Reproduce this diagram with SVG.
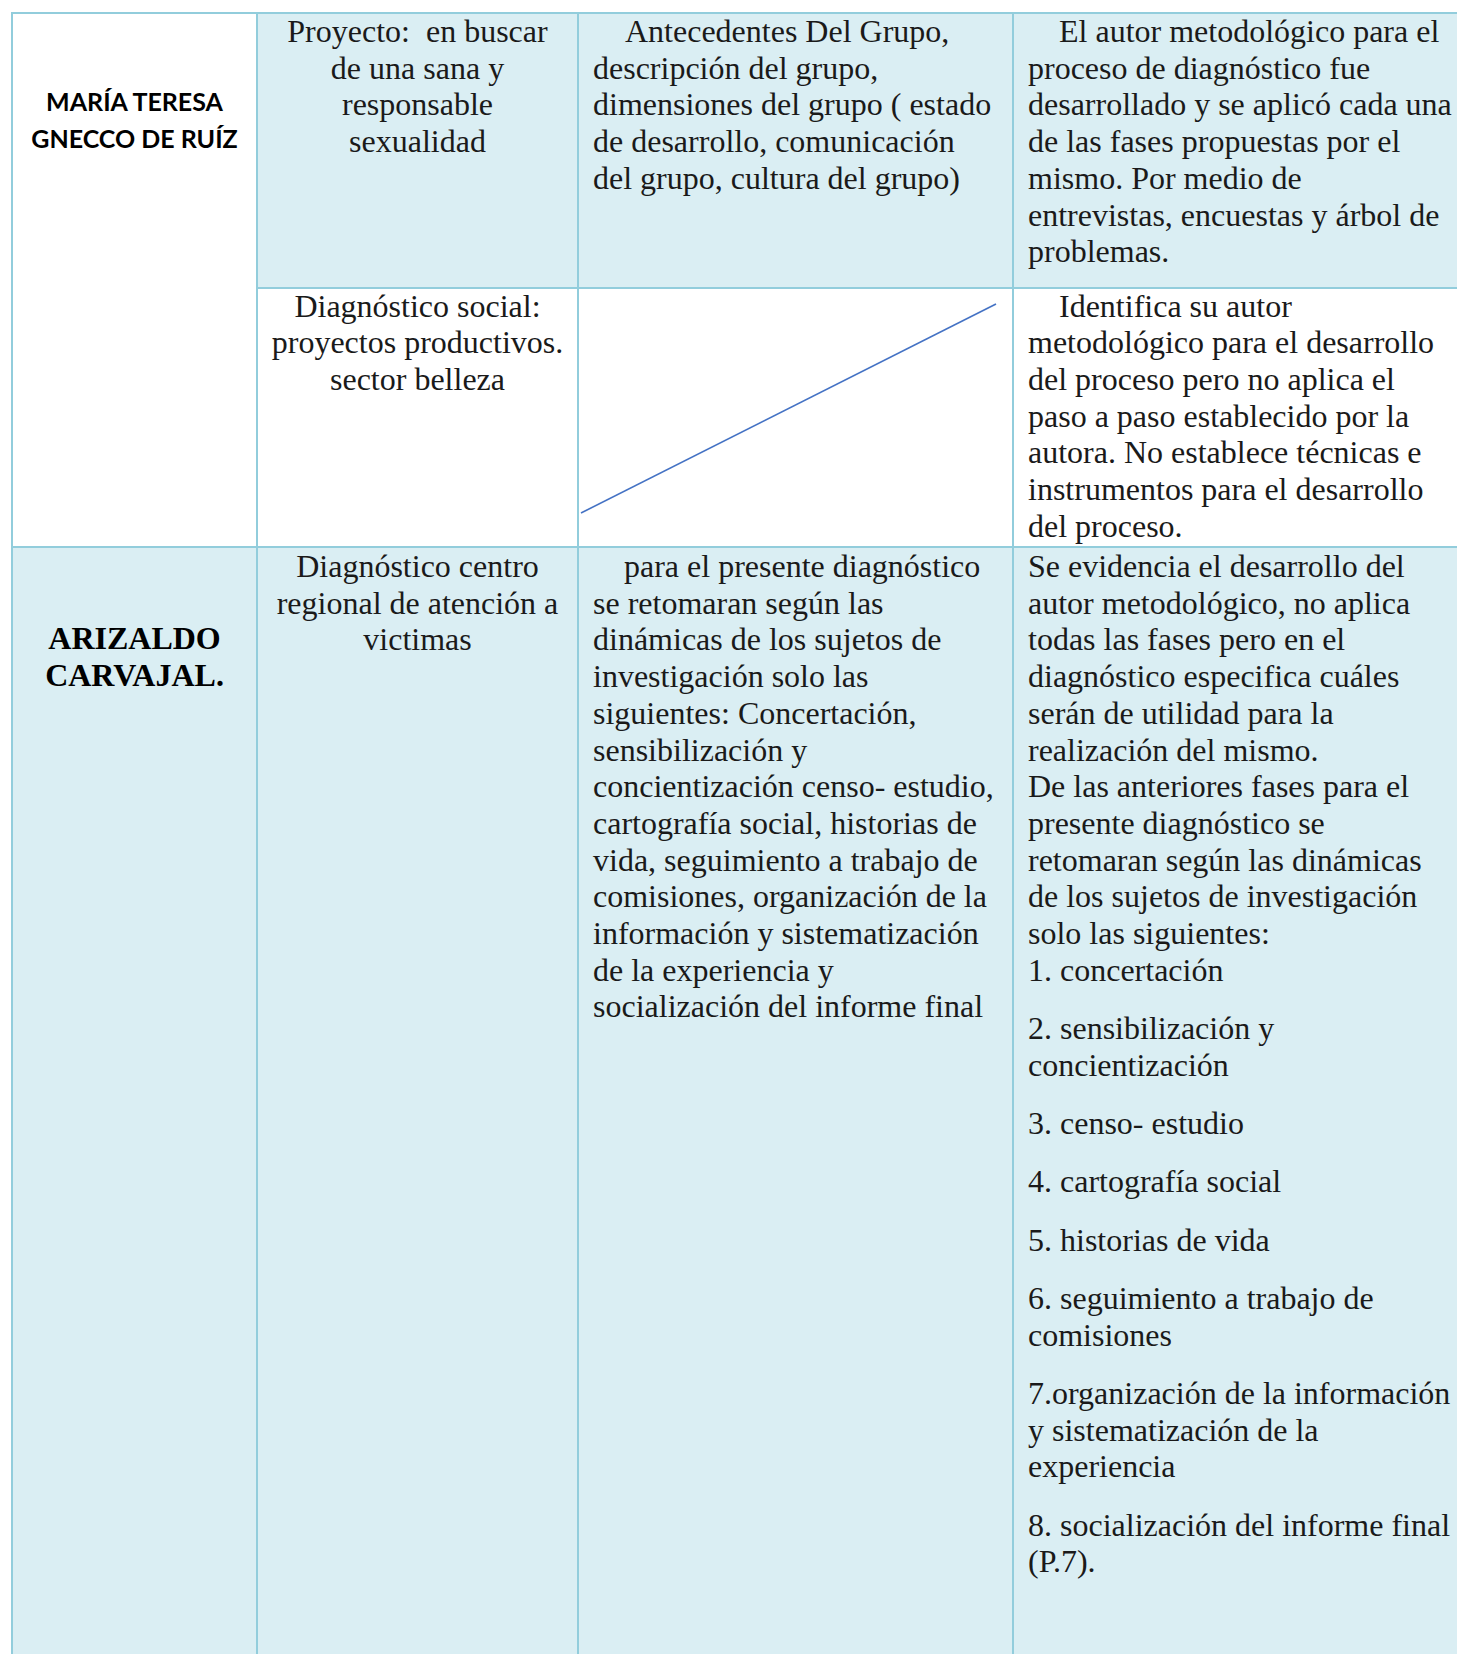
<svg xmlns="http://www.w3.org/2000/svg" width="1457" height="1654" viewBox="0 0 1457 1654">
<style>
.bg{fill:#ffffff}
.fill{fill:#DAEEF3}
.grid{stroke:#92CDDC;stroke-width:2;fill:none}
.t{font-family:"Liberation Serif","Times New Roman",serif;font-size:32px;fill:#1a1a1a}
.c{text-anchor:middle}
.nm{font-family:Lato,"Open Sans",sans-serif;font-weight:bold;font-size:25px;fill:#000;text-anchor:middle}
.nb{font-family:"Liberation Serif","Times New Roman",serif;font-weight:bold;font-size:32px;fill:#000;text-anchor:middle}
.diag{stroke:#4472C4;stroke-width:1.6}
</style>
<rect class="bg" x="0" y="0" width="1457" height="1654"/>
<g id="cells">
<rect class="fill" x="257" y="13" width="1200" height="275"/>
<rect class="fill" x="12" y="547" width="1445" height="1107"/>
</g>
<g id="grid">
<line class="grid" x1="12" y1="13" x2="1457" y2="13"/>
<line class="grid" x1="257" y1="288" x2="1457" y2="288"/>
<line class="grid" x1="12" y1="547" x2="1457" y2="547"/>
<line class="grid" x1="12" y1="12" x2="12" y2="1654"/>
<line class="grid" x1="257" y1="12" x2="257" y2="1654"/>
<line class="grid" x1="578" y1="12" x2="578" y2="1654"/>
<line class="grid" x1="1013" y1="12" x2="1013" y2="1654"/>
</g>
<g id="connectors">
<line class="diag" x1="581" y1="513" x2="996" y2="304"/>
</g>
<g id="name-maria">
<text class="nm" x="134.5" y="111">MARÍA TERESA</text>
<text class="nm" x="134.5" y="147.5">GNECCO DE RUÍZ</text>
</g>
<g id="r1c2">
<text class="t c" x="417.5" y="42">Proyecto:&#160; en buscar</text>
<text class="t c" x="417.5" y="78.7">de una sana y</text>
<text class="t c" x="417.5" y="115.4">responsable</text>
<text class="t c" x="417.5" y="152.1">sexualidad</text>
</g>
<g id="r1c3">
<text class="t" x="625" y="42">Antecedentes Del Grupo,</text>
<text class="t" x="593" y="78.7">descripción del grupo,</text>
<text class="t" x="593" y="115.4">dimensiones del grupo ( estado</text>
<text class="t" x="593" y="152.1">de desarrollo, comunicación</text>
<text class="t" x="593" y="188.8">del grupo, cultura del grupo)</text>
</g>
<g id="r1c4">
<text class="t" x="1059" y="42">El autor metodológico para el</text>
<text class="t" x="1028" y="78.7">proceso de diagnóstico fue</text>
<text class="t" x="1028" y="115.4">desarrollado y se aplicó cada una</text>
<text class="t" x="1028" y="152.1">de las fases propuestas por el</text>
<text class="t" x="1028" y="188.8">mismo. Por medio de</text>
<text class="t" x="1028" y="225.5">entrevistas, encuestas y árbol de</text>
<text class="t" x="1028" y="262.2">problemas.</text>
</g>
<g id="r2c2">
<text class="t c" x="417.5" y="316.5">Diagnóstico social:</text>
<text class="t c" x="417.5" y="353.2">proyectos productivos.</text>
<text class="t c" x="417.5" y="389.9">sector belleza</text>
</g>
<g id="r2c4">
<text class="t" x="1059" y="316.5">Identifica su autor</text>
<text class="t" x="1028" y="353.2">metodológico para el desarrollo</text>
<text class="t" x="1028" y="389.9">del proceso pero no aplica el</text>
<text class="t" x="1028" y="426.6">paso a paso establecido por la</text>
<text class="t" x="1028" y="463.3">autora. No establece técnicas e</text>
<text class="t" x="1028" y="500">instrumentos para el desarrollo</text>
<text class="t" x="1028" y="536.7">del proceso.</text>
</g>
<g id="name-arizaldo">
<text class="nb" x="134.5" y="649.3">ARIZALDO</text>
<text class="nb" x="134.5" y="686">CARVAJAL.</text>
</g>
<g id="r3c2">
<text class="t c" x="417.5" y="577">Diagnóstico centro</text>
<text class="t c" x="417.5" y="613.7">regional de atención a</text>
<text class="t c" x="417.5" y="650.4">victimas</text>
</g>
<g id="r3c3">
<text class="t" x="624" y="577">para el presente diagnóstico</text>
<text class="t" x="593" y="613.7">se retomaran según las</text>
<text class="t" x="593" y="650.4">dinámicas de los sujetos de</text>
<text class="t" x="593" y="687.1">investigación solo las</text>
<text class="t" x="593" y="723.8">siguientes: Concertación,</text>
<text class="t" x="593" y="760.5">sensibilización y</text>
<text class="t" x="593" y="797.2">concientización censo- estudio,</text>
<text class="t" x="593" y="833.9">cartografía social, historias de</text>
<text class="t" x="593" y="870.6">vida, seguimiento a trabajo de</text>
<text class="t" x="593" y="907.3">comisiones, organización de la</text>
<text class="t" x="593" y="944">información y sistematización</text>
<text class="t" x="593" y="980.7">de la experiencia y</text>
<text class="t" x="593" y="1017.4">socialización del informe final</text>
</g>
<g id="r3c4">
<text class="t" x="1028" y="577">Se evidencia el desarrollo del</text>
<text class="t" x="1028" y="613.7">autor metodológico, no aplica</text>
<text class="t" x="1028" y="650.4">todas las fases pero en el</text>
<text class="t" x="1028" y="687.1">diagnóstico especifica cuáles</text>
<text class="t" x="1028" y="723.8">serán de utilidad para la</text>
<text class="t" x="1028" y="760.5">realización del mismo.</text>
<text class="t" x="1028" y="797.2">De las anteriores fases para el</text>
<text class="t" x="1028" y="833.9">presente diagnóstico se</text>
<text class="t" x="1028" y="870.6">retomaran según las dinámicas</text>
<text class="t" x="1028" y="907.3">de los sujetos de investigación</text>
<text class="t" x="1028" y="944">solo las siguientes:</text>
<text class="t" x="1028" y="980.7">1. concertación</text>
<text class="t" x="1028" y="1039">2. sensibilización y</text>
<text class="t" x="1028" y="1075.7">concientización</text>
<text class="t" x="1028" y="1134">3. censo- estudio</text>
<text class="t" x="1028" y="1192.3">4. cartografía social</text>
<text class="t" x="1028" y="1250.6">5. historias de vida</text>
<text class="t" x="1028" y="1308.9">6. seguimiento a trabajo de</text>
<text class="t" x="1028" y="1345.6">comisiones</text>
<text class="t" x="1028" y="1403.9">7.organización de la información</text>
<text class="t" x="1028" y="1440.6">y sistematización de la</text>
<text class="t" x="1028" y="1477.3">experiencia</text>
<text class="t" x="1028" y="1535.6">8. socialización del informe final</text>
<text class="t" x="1028" y="1572.3">(P.7).</text>
</g>
</svg>
